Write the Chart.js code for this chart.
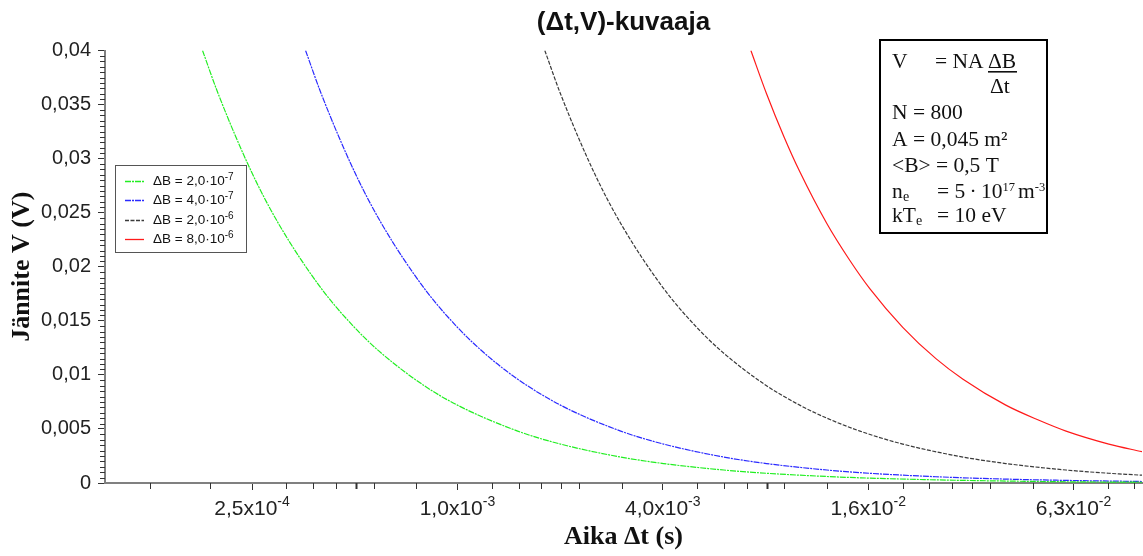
<!DOCTYPE html>
<html><head><meta charset="utf-8">
<script src="https://cdn.jsdelivr.net/npm/chart.js@4.4.1/dist/chart.umd.min.js"></script>
<style>html,body{margin:0;padding:0;background:#fff}#wrap{width:1143px;height:556px;position:relative}</style>
</head><body><div id="wrap"><canvas id="c"></canvas></div>
<script>
// ---- data ----
const chartTitle = '(Δt,V)-kuvaaja';
const xTitle = 'Aika Δt (s)';
const yTitle = 'Jännite V (V)';

const seriesNames = ['ΔB = 2,0·10', 'ΔB = 4,0·10', 'ΔB = 2,0·10', 'ΔB = 8,0·10'];
const seriesExps = ['-7', '-7', '-6', '-6'];
const seriesColors = ['#22ee22', '#2a2aff', '#3a3a3a', '#ff1a1a'];

const greenT = [1.8e-4, 2.0e-4, 2.5e-4, 3.0e-4, 4.0e-4, 5.0e-4, 6.0e-4, 8.0e-4, 1.0e-3, 1.5e-3, 2.0e-3, 3.0e-3, 4.0e-3, 6.0e-3, 8.0e-3, 1.2e-2, 1.6e-2, 2.5e-2, 4.0e-2, 6.3e-2, 1.0e-1];
const greenV = [0.04, 0.036, 0.0288, 0.024, 0.018, 0.0144, 0.012, 0.009, 0.0072, 0.0048, 0.0036, 0.0024, 0.0018, 0.0012, 0.0009, 0.0006, 0.00045, 0.00029, 0.00018, 0.00011, 0.00007];

const blueT = [3.6e-4, 4.0e-4, 5.0e-4, 6.0e-4, 8.0e-4, 1.0e-3, 1.2e-3, 1.5e-3, 2.0e-3, 3.0e-3, 4.0e-3, 6.0e-3, 8.0e-3, 1.2e-2, 1.6e-2, 2.5e-2, 4.0e-2, 6.3e-2, 1.0e-1];
const blueV = [0.04, 0.036, 0.0288, 0.024, 0.018, 0.0144, 0.012, 0.0096, 0.0072, 0.0048, 0.0036, 0.0024, 0.0018, 0.0012, 0.0009, 0.00058, 0.00036, 0.00023, 0.00014];

const blackT = [1.8e-3, 2.0e-3, 2.5e-3, 3.0e-3, 4.0e-3, 5.0e-3, 6.0e-3, 8.0e-3, 1.0e-2, 1.2e-2, 1.5e-2, 2.0e-2, 3.0e-2, 4.0e-2, 6.0e-2, 8.0e-2, 1.0e-1];
const blackV = [0.04, 0.036, 0.0288, 0.024, 0.018, 0.0144, 0.012, 0.009, 0.0072, 0.006, 0.0048, 0.0036, 0.0024, 0.0018, 0.0012, 0.0009, 0.00072];

const redT = [7.2e-3, 8.0e-3, 9.0e-3, 1.0e-2, 1.2e-2, 1.4e-2, 1.6e-2, 2.0e-2, 2.5e-2, 3.0e-2, 4.0e-2, 5.0e-2, 6.0e-2, 8.0e-2, 1.0e-1];
const redV = [0.04, 0.036, 0.032, 0.0288, 0.024, 0.0206, 0.018, 0.0144, 0.0115, 0.0096, 0.0072, 0.0058, 0.0048, 0.0036, 0.0029];

const xMajorTicks = [2.512e-4, 1.0e-3, 3.981e-3, 1.585e-2, 6.310e-2];
const xTickMantissa = ['2,5x10', '1,0x10', '4,0x10', '1,6x10', '6,3x10'];
const xTickExp = ['-4', '-3', '-3', '-2', '-2'];
const xMinorTicks = [1.265e-4, 1.897e-4, 3.16e-4, 3.79e-4, 4.42e-4, 5.05e-4, 5.70e-4, 7.59e-4, 1.26e-3, 1.51e-3, 1.76e-3, 2.01e-3, 2.27e-3, 3.02e-3, 5.0e-3, 6.0e-3, 7.0e-3, 8.0e-3, 9.0e-3, 1.2e-2, 2.0e-2, 2.39e-2, 2.79e-2, 3.19e-2, 3.6e-2, 4.79e-2, 7.95e-2, 9.5e-2];
const xBoldMinor = [5.05e-4, 8.0e-3];

const yTickValues = [0, 0.005, 0.01, 0.015, 0.02, 0.025, 0.03, 0.035, 0.04];
const yTickLabels = ['0', '0,005', '0,01', '0,015', '0,02', '0,025', '0,03', '0,035', '0,04'];
const yMinorStep = 0.0005;

// ---- chart ----
const SANS = '"Liberation Sans", Arial, sans-serif';
const SERIF = '"Liberation Serif", "Times New Roman", serif';

function pts(t, v) { return t.map((x, i) => ({x: x, y: v[i]})); }
const dashes = [[6, 1, 2, 1], [6, 1, 2, 1], [4, 1.5], []];
const seriesData = [pts(greenT, greenV), pts(blueT, blueV), pts(blackT, blackV), pts(redT, redV)];

function drawSup(ctx, base, exp, x, y, bFont, eFont, rise, align) {
  ctx.font = bFont; const wb = ctx.measureText(base).width;
  ctx.font = eFont; const we = ctx.measureText(exp).width;
  let x0 = x;
  if (align === 'center') x0 = x - (wb + we) / 2;
  ctx.textAlign = 'left'; ctx.textBaseline = 'alphabetic';
  ctx.font = bFont; ctx.fillText(base, x0, y);
  ctx.font = eFont; ctx.fillText(exp, x0 + wb, y - rise);
  return x0 + wb + we;
}

const decor = {
  id: 'decor',
  afterDraw(chart) {
    const ctx = chart.ctx, xs = chart.scales.x, ys = chart.scales.y, ca = chart.chartArea;
    ctx.save();
    // minor ticks x
    ctx.strokeStyle = '#333';
    xMinorTicks.forEach(v => {
      const px = Math.round(xs.getPixelForValue(v)) + 0.5;
      ctx.lineWidth = xBoldMinor.includes(v) ? 2 : 1;
      ctx.beginPath(); ctx.moveTo(px, ca.bottom); ctx.lineTo(px, ca.bottom + 6); ctx.stroke();
    });
    // minor ticks y
    ctx.lineWidth = 1;
    for (let k = 1; k < 80; k++) {
      if (k % 10 === 0) continue;
      const py = Math.round(ys.getPixelForValue(k * yMinorStep)) + 0.5;
      ctx.beginPath(); ctx.moveTo(ca.left - 5, py); ctx.lineTo(ca.left, py); ctx.stroke();
    }
    // x tick labels
    ctx.fillStyle = '#222';
    xMajorTicks.forEach((v, i) => {
      drawSup(ctx, xTickMantissa[i], xTickExp[i], xs.getPixelForValue(v), ca.bottom + 32,
        '21px ' + SANS, '14px ' + SANS, 9, 'center');
    });
    // title
    ctx.fillStyle = '#111';
    ctx.font = 'bold 26px ' + SANS; ctx.textAlign = 'center'; ctx.textBaseline = 'alphabetic';
    ctx.fillText(chartTitle, (ca.left + ca.right) / 2, 30);
    // legend
    ctx.fillStyle = '#fff'; ctx.fillRect(115, 165, 131, 87);
    ctx.strokeStyle = '#555'; ctx.lineWidth = 1; ctx.strokeRect(115.5, 165.5, 131, 87);
    chart.data.datasets.forEach((ds, i) => {
      const base = 185 + i * 19.3;
      ctx.strokeStyle = ds.borderColor; ctx.lineWidth = 1.3; ctx.setLineDash(ds.borderDash);
      ctx.beginPath(); ctx.moveTo(125, Math.round(base - 4) + 0.5); ctx.lineTo(144, Math.round(base - 4) + 0.5); ctx.stroke();
      ctx.setLineDash([]);
      ctx.fillStyle = '#111';
      drawSup(ctx, seriesNames[i], seriesExps[i], 153, base, '13.5px ' + SANS, '10px ' + SANS, 5, 'left');
    });
    // annotation box
    ctx.strokeStyle = '#000'; ctx.lineWidth = 2; ctx.strokeRect(880, 40, 167, 193);
    ctx.fillStyle = '#111'; ctx.textAlign = 'left'; ctx.textBaseline = 'alphabetic';
    const F = '21.5px ' + SERIF, FS = '14px ' + SERIF, FE = '12.5px ' + SERIF;
    ctx.font = F;
    ctx.fillText('V', 892, 68); ctx.fillText('= NA', 935, 68); ctx.fillText('ΔB', 988, 68);
    ctx.fillRect(988, 71, 29, 1.6);
    ctx.fillText('Δt', 990, 93);
    ctx.fillText('N', 892, 119); ctx.fillText('= 800', 913, 119);
    ctx.fillText('A', 892, 146); ctx.fillText('= 0,045 m²', 913, 146);
    ctx.fillText('<B> = 0,5 T', 892, 172);
    ctx.fillText('n', 892, 198); ctx.font = FS; ctx.fillText('e', 903, 201);
    let ex = drawSup(ctx, '= 5\u2009·\u200910', '17', 937, 198, F, FE, 7, 'left');
    drawSup(ctx, 'm', '-3', ex + 3, 198, F, FE, 7, 'left');
    ctx.font = F; ctx.fillText('kT', 892, 222); const wk = ctx.measureText('kT').width;
    ctx.font = FS; ctx.fillText('e', 892 + wk, 225);
    ctx.font = F; ctx.fillText('= 10 eV', 937, 222);
    ctx.restore();
  }
};

const gridOpts = {display: true, drawOnChartArea: false, drawTicks: true, tickLength: 7, tickColor: '#333', tickWidth: 1};
const borderOpts = {display: true, color: '#808080', width: 2};

new Chart(document.getElementById('c'), {
  type: 'line',
  data: {
    datasets: seriesData.map((d, i) => ({
      label: seriesNames[i] + seriesExps[i],
      data: d,
      borderColor: seriesColors[i],
      backgroundColor: seriesColors[i],
      borderWidth: 1.2,
      borderDash: dashes[i],
      pointRadius: 0,
      fill: false,
      cubicInterpolationMode: 'monotone'
    }))
  },
  options: {
    responsive: true, maintainAspectRatio: false, animation: false,
    layout: {padding: {top: 50.5, left: 0, right: 1, bottom: 0}},
    plugins: {legend: {display: false}, title: {display: false}, tooltip: {enabled: false}},
    scales: {
      x: {
        type: 'logarithmic', min: 9.34e-5, max: 0.1, bounds: 'data',
        afterBuildTicks: s => { s.ticks = xMajorTicks.map(v => ({value: v})); },
        afterFit: s => { s.height = 73; },
        ticks: {display: false},
        grid: gridOpts, border: borderOpts,
        title: {display: true, text: xTitle, color: '#111', font: {family: SERIF, size: 26, weight: 'bold'}, padding: {top: 0, bottom: 3}}
      },
      y: {
        type: 'linear', min: 0, max: 0.04,
        afterBuildTicks: s => { s.ticks = yTickValues.map(v => ({value: v})); },
        afterFit: s => { s.width = 105; },
        ticks: {callback: (v, i) => yTickLabels[i], color: '#222', font: {family: SANS, size: 20}, padding: 7},
        grid: gridOpts, border: borderOpts,
        title: {display: true, text: yTitle, color: '#111', font: {family: SERIF, size: 26, weight: 'bold'}, padding: {top: 7, bottom: 0}}
      }
    }
  },
  plugins: [decor]
});
</script></body></html>
